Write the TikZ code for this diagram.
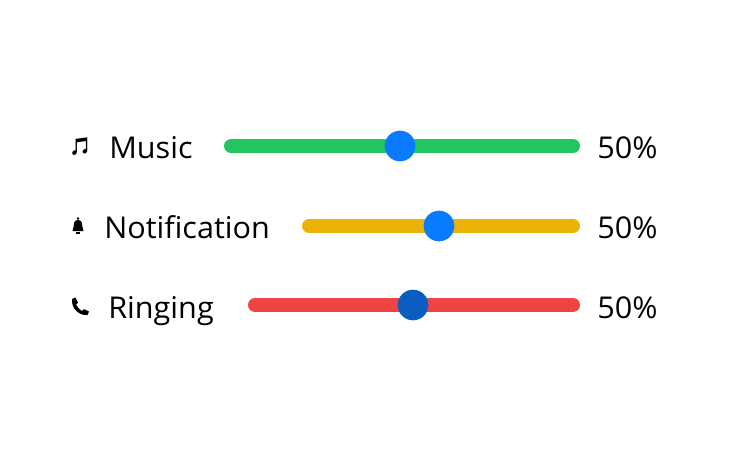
\documentclass[tikz,border=0pt]{standalone}
\usepackage{fontspec}
\setmainfont{Open Sans}
\newfontfamily\emo{Noto Emoji}
\definecolor{cgreen}{HTML}{22C55E}
\definecolor{cyellow}{HTML}{EAB308}
\definecolor{cred}{HTML}{EF4444}
\definecolor{knobA}{HTML}{0A7AFF}
\definecolor{knobB}{HTML}{0A5EC2}
\begin{document}
\begin{tikzpicture}[x=0.75pt,y=-0.75pt,
  lbl/.style={font=\fontsize{22.5}{26}\selectfont,anchor=base west,inner sep=0pt,xscale=1.02},
  ico/.style={font=\emo\fontsize{13}{15}\selectfont,inner sep=0pt},
  track/.style={line width=10.5pt,line cap=round},
  knobst/.style={circle,minimum size=23pt,inner sep=0pt}]
\useasboundingbox (0,0) rectangle (750,469);
\node[ico] (i1) at (80,147) {🎵};
\node[lbl] (l1) at (109,158) {Music};
\coordinate (a1) at (231,146); \coordinate (b1) at (573,146);
\draw[track,cgreen] (a1) -- (b1);
\node[knobst,fill=knobA] (k1) at (400,146) {};
\node[lbl] (p1) at (597,158) {50\%};
% bell
\fill (78,220) .. controls (74,220) and (73.5,224) .. (73.5,227) -- (72.5,231) -- (83.5,231) -- (82.5,227) .. controls (82.5,224) and (82,220) .. (78,220) -- cycle;
\fill (78,218.5) circle (1.3);
\fill (76,232) rectangle (80,233.5);
\node[lbl] (l2) at (104,238) {Notification};
\coordinate (a2) at (309,226); \coordinate (b2) at (573,226);
\draw[track,cyellow] (a2) -- (b2);
\node[knobst,fill=knobA] (k2) at (439,226) {};
\node[lbl] (p2) at (597,238) {50\%};
% phone handset
\fill (72,299) -- (75.5,297.5) -- (78,302.5) -- (76,304.5) .. controls (77.5,307.5) and (79.5,309.5) .. (82,311) -- (84,309) -- (89,311.5) -- (87.5,315) .. controls (79,316) and (71,308) .. (72,299) -- cycle;
\node[lbl] (l3) at (108,318) {Ringing};
\coordinate (a3) at (255,305); \coordinate (b3) at (573,305);
\draw[track,cred] (a3) -- (b3);
\node[knobst,fill=knobB] (k3) at (413,305) {};
\node[lbl] (p3) at (597,318) {50\%};
\end{tikzpicture}
\end{document}
